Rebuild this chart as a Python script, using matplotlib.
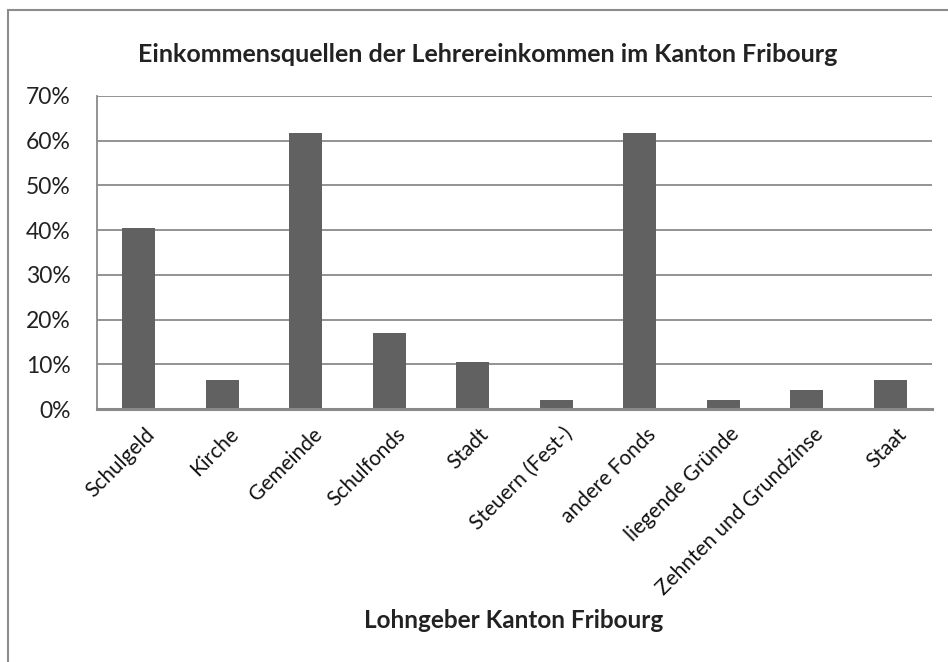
import matplotlib
matplotlib.use("Agg")
import matplotlib.pyplot as plt
import matplotlib.patches as mpatches
from matplotlib.ticker import PercentFormatter, MultipleLocator

categories = ['Schulgeld', 'Kirche', 'Gemeinde', 'Schulfonds', 'Stadt',
              'Steuern (Fest-)', 'andere Fonds', 'liegende Gründe',
              'Zehnten und Grundzinse', 'Staat']
shares = [40.4, 6.4, 61.7, 17.0, 10.6, 2.1, 61.7, 2.1, 4.3, 6.4]

plt.rcParams['font.family'] = ['Lato', 'DejaVu Sans']

W, H = 948, 662
fig = plt.figure(figsize=(W / 100, H / 100), dpi=100)
ax = fig.add_axes([97 / W, 1 - 409 / H, (932 - 97) / W, (409 - 96) / H])

# outer chart border (cut at right and bottom like the reference)
border = mpatches.Rectangle((8 / W, -0.1), 1.1, 1 - 10 / H + 0.1,
                            transform=fig.transFigure, fill=False,
                            edgecolor='#8c8c8c', lw=1.5, clip_on=False)
fig.patches.append(border)

x = range(len(categories))
ax.bar(x, shares, width=0.4, color='#616161', zorder=3)

ax.set_xlim(-0.5, len(categories) - 0.5)
ax.set_ylim(0, 70)
ax.yaxis.set_major_locator(MultipleLocator(10))
ax.yaxis.set_major_formatter(PercentFormatter(decimals=0))
ax.grid(axis='y', color='#8a8a8a', lw=1.3, zorder=0)

for s in ['top', 'right']:
    ax.spines[s].set_visible(False)
ax.spines['left'].set_color('#8a8a8a')
ax.spines['left'].set_linewidth(1.3)
ax.spines['bottom'].set_color('#8a8a8a')
ax.spines['bottom'].set_linewidth(2.2)
ax.spines['bottom'].set_zorder(4)

ax.tick_params(axis='y', length=0, pad=19, labelsize=16.5, labelcolor='#222222')
ax.tick_params(axis='x', length=0, pad=0)
ax.set_xticks(list(x))
ax.set_xticklabels(categories, rotation=45, ha='right', va='top',
                   rotation_mode='anchor', fontsize=15, color='#111111')
for lab in ax.get_xticklabels():
    lab.set_transform(lab.get_transform() +
                      matplotlib.transforms.ScaledTranslation(6 / 100, -15 / 100, fig.dpi_scale_trans))

fig.text(488 / W, 1 - 55 / H, 'Einkommensquellen der Lehrereinkommen im Kanton Fribourg',
         ha='center', va='center', fontsize=18, fontweight='bold', color='#222222')
fig.text(514 / W, 1 - 620 / H, 'Lohngeber Kanton Fribourg',
         ha='center', va='center', fontsize=17.5, fontweight='bold', color='#222222')

fig.savefig('out.png', dpi=100, facecolor='white')
